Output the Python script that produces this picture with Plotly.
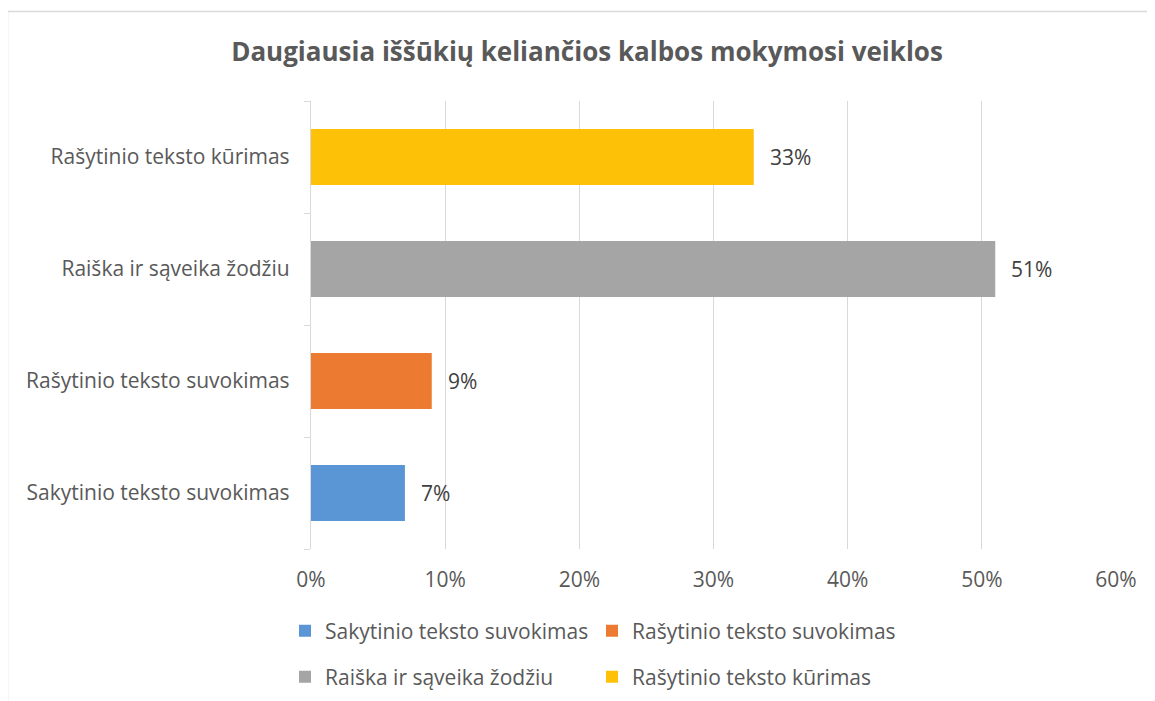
import plotly.graph_objects as go

title_text = "Daugiausia iššūkių keliančios kalbos mokymosi veiklos"
categories = ["Sakytinio teksto suvokimas", "Rašytinio teksto suvokimas",
              "Raiška ir sąveika žodžiu", "Rašytinio teksto kūrimas"]
values = [0.07, 0.09, 0.51, 0.33]
colors = ["#5A96D5", "#EC7A31", "#A5A5A5", "#FDC107"]
legend_groups = ["legend", "legend", "legend2", "legend2"]
x_ticks = [0, 0.1, 0.2, 0.3, 0.4, 0.5, 0.6]

OFF = 8  # page body margin
W, H = 1155 - OFF, 701 - OFF
L, R, T, B = 311 - OFF, 1116 - OFF, 101 - OFF, 549 - OFF
pw, ph = R - L, B - T

def px(x):
    return (x - OFF - L) / pw

def py(y):
    return (B - (y - OFF)) / ph

FONT = "Open Sans"
GRAY = "#595959"
LINE = "#D9D9D9"
FS = 21

fig = go.Figure()
for cat, val, col, lg in zip(categories, values, colors, legend_groups):
    fig.add_trace(go.Bar(
        y=[cat], x=[val], orientation="h", name=cat,
        marker=dict(color=col, line=dict(width=0)),
        legend=lg, hoverinfo="x+y",
    ))
    fig.add_annotation(x=val, y=cat, xref="x", yref="y", text=f"{round(val*100)}%",
                       showarrow=False, xanchor="left", xshift=14,
                       font=dict(family=FONT, size=FS, color="#404040"))

legend_common = dict(orientation="h", xanchor="left", yanchor="middle",
                     entrywidth=262, entrywidthmode="pixels", itemclick=False,
                     font=dict(family=FONT, size=FS, color=GRAY),
                     bgcolor="rgba(0,0,0,0)", borderwidth=0)

fig.update_layout(
    width=W, height=H,
    margin=dict(l=L, r=W - R, t=T, b=H - B, autoexpand=False),
    paper_bgcolor="white", plot_bgcolor="white",
    barmode="overlay", bargap=0.5,
    font=dict(family=FONT, size=FS, color=GRAY),
    title=dict(text=f"<b>{title_text}</b>", x=px(587), xref="paper", xanchor="center",
               y=1 - (52 - OFF) / H, yanchor="middle",
               font=dict(family=FONT, size=26, color=GRAY)),
    xaxis=dict(range=[0, 0.6], tickvals=x_ticks, tickformat=".0%",
               showgrid=True, gridcolor=LINE, gridwidth=1.3, zeroline=False,
               showline=False, ticks="", ticklabelstandoff=16,
               tickfont=dict(family=FONT, size=FS, color=GRAY), fixedrange=True),
    yaxis=dict(categoryorder="array", categoryarray=categories,
               showline=True, linecolor=LINE, linewidth=1.3, tickson="boundaries",
               ticks="outside", ticklen=6, tickcolor=LINE, tickwidth=1.3,
               ticklabelstandoff=16, showgrid=False,
               tickfont=dict(family=FONT, size=FS, color=GRAY), fixedrange=True),
    legend=dict(x=px(285), y=py(631), **legend_common),
    legend2=dict(x=px(285), y=py(677), **legend_common),
    showlegend=True,
    shapes=[
        dict(type="line", xref="paper", yref="paper", x0=px(7.5), x1=px(1160),
             y0=py(11.5), y1=py(11.5), line=dict(color=LINE, width=1.5)),
        dict(type="line", xref="paper", yref="paper", x0=px(7.5), x1=px(7.5),
             y0=py(11.5), y1=py(706), line=dict(color=LINE, width=1.5)),
    ],
)

fig.write_html("out.html", config={"displayModeBar": False})
